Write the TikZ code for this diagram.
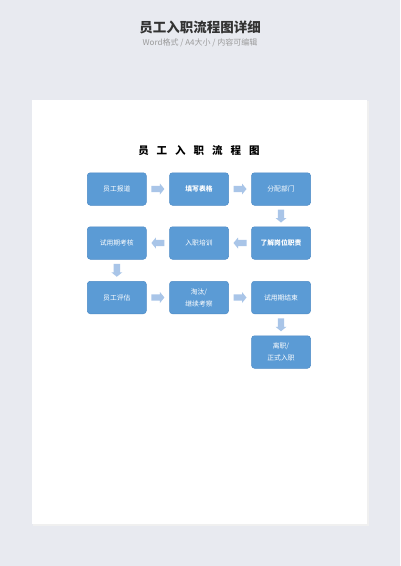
\documentclass[tikz,border=0pt]{standalone}
\usepackage{fontspec}
\setmainfont{Noto Sans CJK SC}
\usetikzlibrary{calc}
\definecolor{bgc}{HTML}{E8EAF0}
\definecolor{boxc}{HTML}{5B9BD5}
\definecolor{boxd}{HTML}{4D8BC6}
\definecolor{arrc}{HTML}{A9C5E8}
\definecolor{ttl}{HTML}{333333}
\definecolor{sub}{HTML}{9A9A9A}
\tikzset{
  stepbox/.style={draw=boxd, line width=0.5pt, fill=boxc, rounded corners=3pt,
    minimum width=59pt, minimum height=32.5pt, inner sep=1pt, text=white,
    font=\fontsize{6.8}{12}\selectfont, align=center},
  blockarr/.style={fill=arrc, draw=none},
}
\newcommand{\blockarrow}[2]{%
  \fill[blockarr, shift={(#1)}, rotate=#2]
    (-6.5,-3.2) -- (2,-3.2) -- (2,-5.5) -- (6.5,0) -- (2,5.5) -- (2,3.2) -- (-6.5,3.2) -- cycle;}
\begin{document}
\begin{tikzpicture}[x=1pt,y=-1pt]
\useasboundingbox (0,0) rectangle (400,566);
\fill[bgc] (0,0) rectangle (400,566);
\fill[black!6] (33,101) rectangle (369,526);
\fill[white] (32,100) rectangle (367,524);
\node[text=ttl, font=\fontsize{13.5}{14}\selectfont\bfseries] (maintitle) at (200,27.5) {员工入职流程图详细};
\node[text=sub, font=\fontsize{8}{9}\selectfont] (subtitle) at (200,43) {Word格式 / A4大小 / 内容可编辑};
\node[font=\fontsize{10.5}{12}\selectfont\bfseries] (ptitle) at (199,151) {员\hspace{8pt}工\hspace{8pt}入\hspace{8pt}职\hspace{8pt}流\hspace{8pt}程\hspace{8pt}图};
\node[stepbox] (a1) at (116.8,189) {员工报道};
\node[stepbox] (a2) at (199,189) {\bfseries 填写表格};
\node[stepbox] (a3) at (281,189) {分配部门};
\node[stepbox] (b3) at (281,243) {\bfseries 了解岗位职责};
\node[stepbox] (b2) at (199,243) {入职培训};
\node[stepbox] (b1) at (116.8,243) {试用期考核};
\node[stepbox] (c1) at (116.8,297.5) {员工评估};
\node[stepbox] (c2) at (199,297.5) {淘汰/\\继续考察};
\node[stepbox] (c3) at (281,297.5) {试用期结束};
\node[stepbox] (d3) at (281,352) {离职/\\正式入职};
\coordinate (r1) at ($(a1.east)!0.5!(a2.west)$);
\coordinate (r2) at ($(a2.east)!0.5!(a3.west)$);
\coordinate (r3) at ($(a3.south)!0.5!(b3.north)$);
\coordinate (r4) at ($(b3.west)!0.5!(b2.east)$);
\coordinate (r5) at ($(b2.west)!0.5!(b1.east)$);
\coordinate (r6) at ($(b1.south)!0.5!(c1.north)$);
\coordinate (r7) at ($(c1.east)!0.5!(c2.west)$);
\coordinate (r8) at ($(c2.east)!0.5!(c3.west)$);
\coordinate (r9) at ($(c3.south)!0.5!(d3.north)$);
\blockarrow{r1}{0}
\blockarrow{r2}{0}
\blockarrow{r3}{-90}
\blockarrow{r4}{180}
\blockarrow{r5}{180}
\blockarrow{r6}{-90}
\blockarrow{r7}{0}
\blockarrow{r8}{0}
\blockarrow{r9}{-90}
\end{tikzpicture}
\end{document}
